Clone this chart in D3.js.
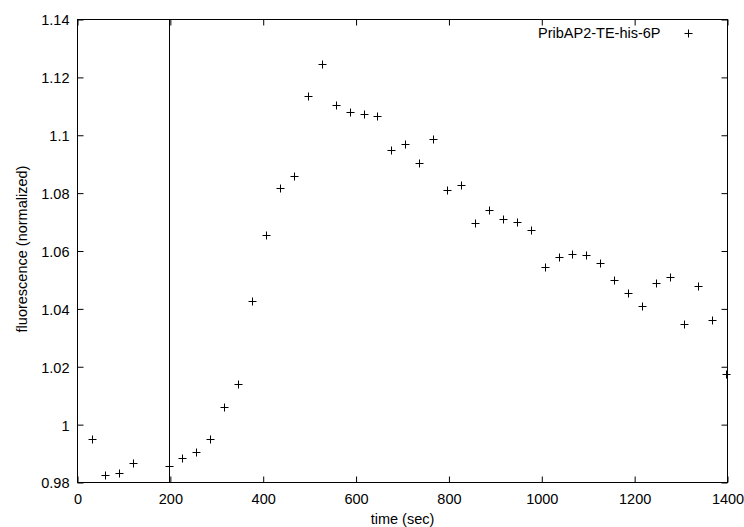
<!DOCTYPE html>
<html>
<head>
<meta charset="utf-8">
<script src="https://cdn.jsdelivr.net/npm/d3@7"></script>
<style>
  html, body { margin: 0; padding: 0; background: #fff; }
  svg { display: block; }
  text { font-family: "Liberation Sans", Arial, Helvetica, sans-serif; font-size: 14.5px; fill: #000; }
</style>
</head>
<body>
<svg id="chart" width="744" height="527"></svg>
<script>
const seriesName = "PribAP2-TE-his-6P";
const times = [31, 60, 90, 120,
  196, 226, 256, 286, 316, 346, 376, 406, 436, 466, 496, 526, 556, 586, 616, 646,
  676, 706, 736, 766, 796, 826, 856, 886, 916, 946, 976, 1006, 1036, 1066, 1096,
  1126, 1156, 1186, 1216, 1246, 1276, 1306, 1336, 1366, 1396];
const fluorescence = [0.9952, 0.9826, 0.9832, 0.9869,
  0.9857, 0.9884, 0.9905, 0.9951, 1.0060, 1.0140, 1.0427, 1.0654, 1.0817, 1.0858,
  1.1134, 1.1247, 1.1104, 1.1079, 1.1074, 1.1067, 1.0950, 1.0971, 1.0903, 1.0986,
  1.0810, 1.0827, 1.0696, 1.0740, 1.0710, 1.0700, 1.0672, 1.0544, 1.0580, 1.0589,
  1.0587, 1.0559, 1.0499, 1.0456, 1.0411, 1.0488, 1.0511, 1.0348, 1.0480, 1.0360,
  1.0176];
const markerTime = 196;
const xTicks = [0, 200, 400, 600, 800, 1000, 1200, 1400];
const yTicks = [0.98, 1, 1.02, 1.04, 1.06, 1.08, 1.1, 1.12, 1.14];

const svg = d3.select("#chart");
const L = 77.5, R = 727.5, T = 19.5, B = 482.5;
const x = d3.scaleLinear().domain([0, 1400]).range([L, R]);
const y = d3.scaleLinear().domain([0.98, 1.14]).range([B, T]);
const fmt = d => String(+d.toFixed(2));
const FONT = '"Liberation Sans", Arial, sans-serif';

// Axes with inward ticks (mirrored on all four sides)
const tl = 6;
svg.append("g").attr("transform", `translate(0,${B})`)
  .call(d3.axisBottom(x).tickValues(xTicks).tickSizeInner(-tl).tickSizeOuter(0).tickPadding(0).tickFormat(fmt))
  .call(g => g.select(".domain").remove())
  .call(g => g.selectAll(".tick text").attr("y", 21).attr("dy", 0));
svg.append("g").attr("transform", `translate(0,${T})`)
  .call(d3.axisTop(x).tickValues(xTicks).tickSizeInner(-tl).tickSizeOuter(0).tickFormat(""))
  .call(g => g.select(".domain").remove());
svg.append("g").attr("transform", `translate(${L},0)`)
  .call(d3.axisLeft(y).tickValues(yTicks).tickSizeInner(-tl).tickSizeOuter(0).tickPadding(8).tickFormat(fmt))
  .call(g => g.select(".domain").remove())
  .call(g => g.selectAll(".tick text").attr("dy", "0.37em"));
svg.append("g").attr("transform", `translate(${R},0)`)
  .call(d3.axisRight(y).tickValues(yTicks).tickSizeInner(-tl).tickSizeOuter(0).tickFormat(""))
  .call(g => g.select(".domain").remove());
svg.selectAll(".tick line").attr("stroke", "#000").attr("stroke-width", 1);
svg.selectAll(".tick text").style("font-size", "14.5px").attr("fill", "#000").style("font-family", FONT);

// Frame
svg.append("rect").attr("x", L).attr("y", T).attr("width", R - L).attr("height", B - T)
  .attr("fill", "none").attr("stroke", "#000").attr("stroke-width", 1);

// Vertical marker line
svg.append("line").attr("x1", Math.round(x(markerTime)) + 0.5).attr("x2", Math.round(x(markerTime)) + 0.5)
  .attr("y1", T).attr("y2", B).attr("stroke", "#000").attr("stroke-width", 1);

// Points (+)
const h = 4;
const pts = svg.append("g");
times.forEach((t, i) => {
  const cx = Math.round(x(t)) + 0.5, cy = Math.round(y(fluorescence[i])) + 0.5;
  pts.append("path").attr("d", `M${cx - h},${cy}H${cx + h}M${cx},${cy - h}V${cy + h}`)
    .attr("stroke", "#000").attr("stroke-width", 1).attr("fill", "none");
});

// Legend
svg.append("text").attr("x", 660.5).attr("y", 38).attr("text-anchor", "end").text(seriesName);
const lx = 688.5, ly = 33.5;
svg.append("path").attr("d", `M${lx - h},${ly}H${lx + h}M${lx},${ly - h}V${ly + h}`)
  .attr("stroke", "#000").attr("stroke-width", 1);

// Axis labels
svg.append("text").attr("x", (L + R) / 2).attr("y", 523.5).attr("text-anchor", "middle").text("time (sec)");
svg.append("text").attr("transform", `translate(26.5,${(T + B) / 2 - 2}) rotate(-90)`)
  .attr("text-anchor", "middle").text("fluorescence (normalized)");
</script>
</body>
</html>
